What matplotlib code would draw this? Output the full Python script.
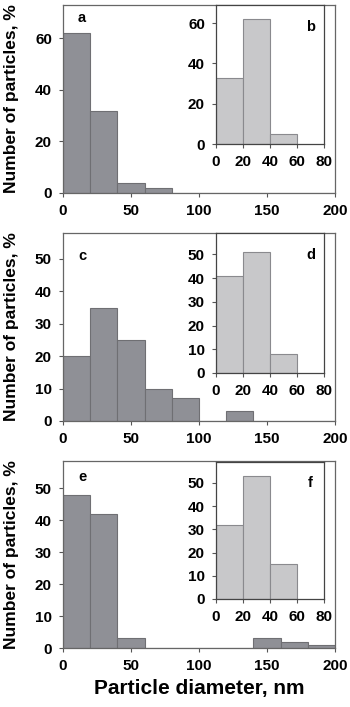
import matplotlib.pyplot as plt

plt.rcParams['font.family'] = ['Liberation Sans', 'DejaVu Sans']
plt.rcParams['font.weight'] = 'bold'

# bin left edges, nm (width 20)
main_bins = [0, 20, 40, 60, 80, 100, 120, 140, 160, 180]
inset_bins = [0, 20, 40]

# main histograms (a, c, e), % of particles
main_a = [62, 32, 4, 2, 0, 0, 0, 0, 0, 0]
main_c = [20, 35, 25, 10, 7, 0, 3, 0, 0, 0]
main_e = [48, 42, 3, 0, 0, 0, 0, 3, 2, 1]

# insets (b, d, f)
inset_b = [33, 62, 5]
inset_d = [41, 51, 8]
inset_f = [32, 53, 15]

main_letters = ["a", "c", "e"]
inset_letters = ["b", "d", "f"]
main_yticks = [[0, 20, 40, 60], [0, 10, 20, 30, 40, 50], [0, 10, 20, 30, 40, 50]]
inset_yticks = [[0, 20, 40, 60], [0, 10, 20, 30, 40, 50], [0, 10, 20, 30, 40, 50]]
main_ymax = [73, 58, 58.5]
inset_ymax = [69, 59, 59]

W, H = 350, 707
fig = plt.figure(figsize=(W / 100, H / 100), dpi=100)

# pixel boxes: (left, top, right, bottom)
main_boxes = [(63, 5, 335, 193), (63, 233, 335, 421), (63, 461, 335, 648)]
inset_boxes = [(216, 5, 324, 144), (216, 233, 324, 373), (216, 462, 324, 599)]
letter_y = [0.93, 0.88, 0.915]


def px_axes(box):
    l, t, r, b = box
    return fig.add_axes([l / W, 1 - b / H, (r - l) / W, (b - t) / H])


main_data = [main_a, main_c, main_e]
inset_data = [inset_b, inset_d, inset_f]

for i in range(3):
    ax = px_axes(main_boxes[i])
    ax.bar(main_bins, main_data[i], width=20, align="edge",
           color="#8f9096", edgecolor="#6f6f73", linewidth=0.8)
    ax.set_xlim(0, 200)
    ax.set_ylim(0, main_ymax[i])
    ax.set_xticks([0, 50, 100, 150, 200])
    ax.set_yticks(main_yticks[i])
    ax.tick_params(direction="out", length=3, width=0.8, labelsize=11,
                   color="#555555", pad=5)
    for s in ax.spines.values():
        s.set_color("#666666")
        s.set_linewidth(0.9)
    ax.set_ylabel("Number of particles, %", fontsize=12.5, fontweight="bold")
    ax.yaxis.set_label_coords(-0.16, 0.5)
    ax.text(11, main_ymax[i] * letter_y[i], main_letters[i], fontsize=10.5,
            fontweight="bold", ha="left", va="center")
    if i == 2:
        ax.set_xlabel("Particle diameter, nm", fontsize=15, fontweight="bold",
                      labelpad=4)

    ins = px_axes(inset_boxes[i])
    ins.bar(inset_bins, inset_data[i], width=20, align="edge",
            color="#c8c8ca", edgecolor="#8a8a8e", linewidth=0.8)
    ins.set_xlim(0, 80)
    ins.set_ylim(0, inset_ymax[i])
    ins.set_xticks([0, 20, 40, 60, 80])
    ins.set_yticks(inset_yticks[i])
    ins.tick_params(direction="out", length=3, width=0.8, labelsize=11,
                    color="#555555", pad=5)
    for s in ins.spines.values():
        s.set_color("#444444")
        s.set_linewidth(0.9)
    ins.text(70, inset_ymax[i] * 0.845, inset_letters[i], fontsize=10.5,
             fontweight="bold", ha="center", va="center")

fig.savefig("out.png", dpi=100)
